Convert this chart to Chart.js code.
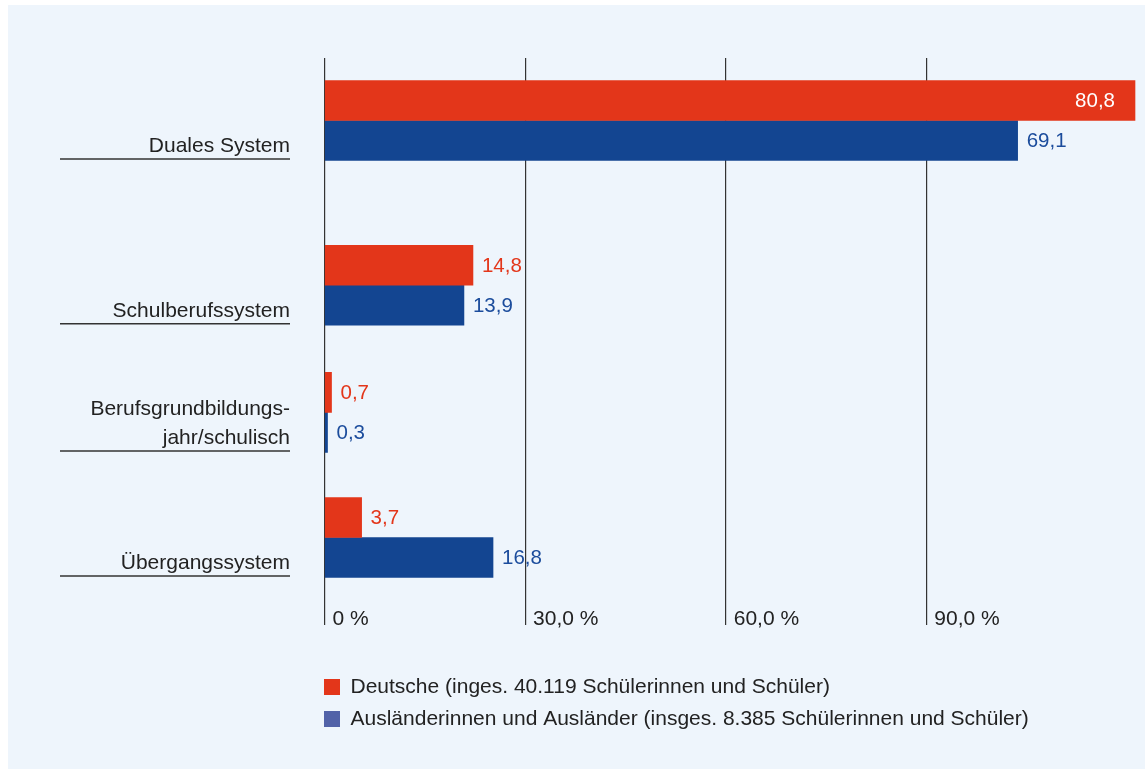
<!DOCTYPE html>
<html lang="de">
<head>
<meta charset="utf-8">
<title>Ausbildungssysteme</title>
<script src="https://cdn.jsdelivr.net/npm/chart.js@4/dist/chart.umd.min.js"></script>
<style>
  html, body { margin: 0; padding: 0; background: #fff; }
  #wrap { width: 1145px; height: 769px; position: relative; }
</style>
</head>
<body>
<div id="wrap"><canvas id="chart"></canvas></div>
<script>
    // Kategorien und Anteile in Prozent
    const categories = ['Duales System', 'Schulberufssystem', ['Berufsgrundbildungs-', 'jahr/schulisch'], 'Übergangssystem'];
    const deutsche = [80.8, 14.8, 0.7, 3.7];
    const auslaender = [69.1, 13.9, 0.3, 16.8];
    const seriesNames = [
        'Deutsche (inges. 40.119 Schülerinnen und Schüler)',
        'Ausländerinnen und Ausländer (insges. 8.385 Schülerinnen und Schüler)'
    ];
    const tickLabels = ['0 %', '30,0 %', '60,0 %', '90,0 %'];

    // Zeilenlage der Gruppen auf der y-Achse (ungleiche Abstände)
    const rows = [1.5, 5.45, 8.5, 11.5];
    const gridStep = 20;

    const red = '#e3361a';
    const blue = '#134591';
    const blueText = '#1b4c9c';
    const legendColors = [red, '#5162a8'];
    const textColor = '#222';
    const fontFamily = '"Liberation Sans", Arial, sans-serif';

    Chart.defaults.font.family = fontFamily;

    const fmt = v => v.toFixed(1).replace('.', ',');

    // Hellblaue Fläche hinter dem Diagramm
    const panel = {
        id: 'panel',
        beforeDraw(chart) {
            const c = chart.ctx;
            c.save();
            c.fillStyle = '#eef5fc';
            c.fillRect(8, 5, chart.width - 8, chart.height - 5);
            c.restore();
        }
    };

    // Kategorienamen links mit Unterstrich
    const categoryLabels = {
        id: 'categoryLabels',
        afterDraw(chart) {
            const c = chart.ctx;
            const y = chart.scales.y;
            const right = chart.chartArea.left - 34.5;
            c.save();
            c.font = '21px ' + fontFamily;
            c.fillStyle = textColor;
            c.textAlign = 'right';
            c.textBaseline = 'alphabetic';
            categories.forEach((cat, i) => {
                const lines = Array.isArray(cat) ? cat : [cat];
                const bottom = y.getPixelForValue(rows[i]) + 40;
                lines.forEach((line, j) => {
                    c.fillText(line, right, bottom - 8.5 - (lines.length - 1 - j) * 29.3);
                });
                c.strokeStyle = '#333';
                c.lineWidth = 1.5;
                c.beginPath();
                c.moveTo(60, bottom - 1.5);
                c.lineTo(right, bottom - 1.5);
                c.stroke();
            });
            c.restore();
        }
    };

    // Werte neben bzw. in den Balken
    const valueLabels = {
        id: 'valueLabels',
        afterDatasetsDraw(chart) {
            const c = chart.ctx;
            c.save();
            c.font = '20.5px ' + fontFamily;
            c.textBaseline = 'middle';
            chart.data.datasets.forEach((ds, di) => {
                chart.getDatasetMeta(di).data.forEach((bar, i) => {
                    const text = fmt(ds.data[i].x);
                    const w = c.measureText(text).width;
                    if (bar.x + 9 + w > chart.chartArea.right) {
                        c.fillStyle = '#fff';
                        c.textAlign = 'right';
                        c.fillText(text, bar.x - 20, bar.y + 1);
                    } else {
                        c.fillStyle = di === 0 ? red : blueText;
                        c.textAlign = 'left';
                        c.fillText(text, bar.x + 9, bar.y + 1);
                    }
                });
            });
            c.restore();
        }
    };

    const ctx = document.getElementById('chart').getContext('2d');

    const myChart = new Chart(ctx, {
        type: 'bar',
        data: {
            datasets: [
                {
                    label: seriesNames[0],
                    data: deutsche.map((v, i) => ({ x: v, y: rows[i] })),
                    backgroundColor: red
                },
                {
                    label: seriesNames[1],
                    data: auslaender.map((v, i) => ({ x: v, y: rows[i] })),
                    backgroundColor: blue
                }
            ]
        },
        options: {
            indexAxis: 'y',
            responsive: true,
            maintainAspectRatio: false,
            animation: false,
            barThickness: 40,
            layout: {
                padding: { left: 313, right: 8, top: 58, bottom: 29.5 }
            },
            plugins: {
                tooltip: { enabled: false },
                legend: {
                    position: 'bottom',
                    align: 'start',
                    labels: {
                        boxWidth: 16,
                        boxHeight: 16,
                        padding: 11,
                        color: textColor,
                        font: { size: 21 },
                        generateLabels: chart =>
                            Chart.defaults.plugins.legend.labels.generateLabels(chart).map((item, i) => ({
                                ...item,
                                fillStyle: legendColors[i],
                                strokeStyle: legendColors[i],
                                lineWidth: 0
                            }))
                    }
                }
            },
            scales: {
                x: {
                    type: 'linear',
                    position: 'bottom',
                    min: 0,
                    max: 81,
                    afterBuildTicks: s => {
                        s.ticks = tickLabels.map((_, i) => ({ value: i * gridStep }));
                    },
                    afterFit: s => { s.height = 65.5; },
                    border: { display: false },
                    grid: {
                        color: '#333',
                        lineWidth: 1.2,
                        drawTicks: true,
                        tickLength: 25
                    },
                    ticks: {
                        callback: (v, i) => tickLabels[i],
                        align: 'start',
                        labelOffset: 8,
                        padding: -18,
                        maxRotation: 0,
                        autoSkip: false,
                        color: textColor,
                        font: { size: 21 }
                    }
                },
                y: {
                    type: 'linear',
                    reverse: true,
                    offset: false,
                    min: 0,
                    max: 13,
                    afterFit: s => { s.width = 11.5; },
                    border: { display: false },
                    grid: { display: false, offset: false },
                    ticks: { display: false }
                }
            }
        },
        plugins: [panel, categoryLabels, valueLabels]
    });
</script>
</body>
</html>
